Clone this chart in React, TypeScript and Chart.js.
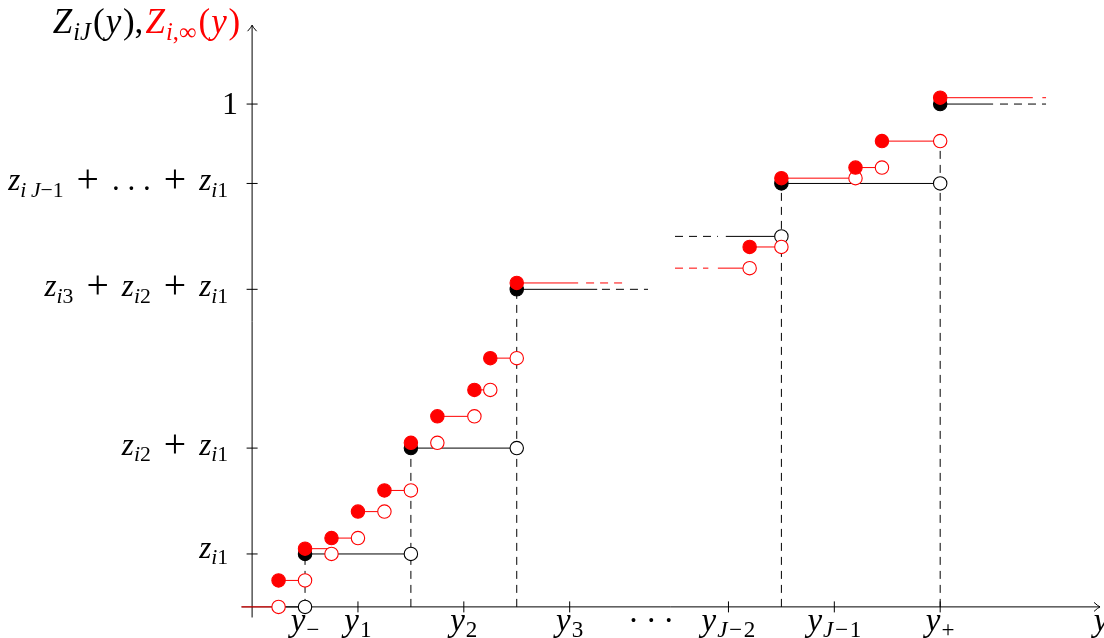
import { useEffect, useRef } from "react";
import { Chart, registerables } from "chart.js";

Chart.register(...registerables);

const W = 1104;
const H = 638;

// Visible data window (one unit is the same length on both axes)
const X_MIN = -4.763;
const X_MAX = 16.095;
const Y_MIN = -0.5876;
const Y_MAX = 11.466;

// Extent of the drawn axes
const X_AXIS = [-0.2, 16.02];
const Y_AXIS = [-0.2, 10.99];

// Z_iJ(y): solid steps [from, to, level]
const jSteps = [
  [0.5, 1, 0],
  [1, 3, 1],
  [3, 5, 3],
  [5, 6.52, 6],
  [8.95, 10, 7],
  [10, 13, 8],
  [13, 14.0, 9.5],
];
// Z_iJ(y): dashed continuations
const jStepsDashed = [
  [6.61, 7.48, 6],
  [7.99, 8.8, 7],
  [14.13, 15.0, 9.5],
];
const jClosed = [
  [1, 1],
  [3, 3],
  [5, 6],
  [10, 8],
  [13, 9.5],
];
const jOpen = [
  [1, 0],
  [3, 1],
  [5, 3],
  [10, 7],
  [13, 8],
];

// Z_i,inf(y): solid steps [from, to, level]
const infSteps = [
  [-0.2, 0.5, 0],
  [0.5, 1, 0.5],
  [1, 1.5, 1.1],
  [1.5, 2, 1.3],
  [2, 2.5, 1.8],
  [2.5, 3, 2.2],
  [3.5, 4.2, 3.6],
  [4.2, 4.5, 4.1],
  [4.5, 5, 4.7],
  [5, 6.16, 6.12],
  [8.8, 9.4, 6.4],
  [9.4, 10, 6.8],
  [10, 11.4, 8.1],
  [11.4, 11.9, 8.3],
  [11.9, 13, 8.8],
  [13, 14.75, 9.62],
];
// Z_i,inf(y): dashed continuations
const infStepsDashed = [
  [6.31, 7.0, 6.12],
  [7.99, 8.62, 6.4],
  [14.93, 15.0, 9.62],
];
const infClosed = [
  [0.5, 0.5],
  [1, 1.1],
  [1.5, 1.3],
  [2, 1.8],
  [2.5, 2.2],
  [3, 3.1],
  [3.5, 3.6],
  [4.2, 4.1],
  [4.5, 4.7],
  [5, 6.12],
  [9.4, 6.8],
  [10, 8.1],
  [11.4, 8.3],
  [11.9, 8.8],
  [13, 9.62],
];
const infOpen = [
  [0.5, 0],
  [1, 0.5],
  [1.5, 1.0],
  [2, 1.3],
  [2.5, 1.8],
  [3, 2.2],
  [3.5, 3.1],
  [4.2, 3.6],
  [4.5, 4.1],
  [5, 4.7],
  [9.4, 6.4],
  [10, 6.8],
  [11.4, 8.1],
  [11.9, 8.3],
  [13, 8.8],
];

// Dashed drop lines [x, top]
const dropLines = [
  [1, 1],
  [3, 3],
  [5, 6],
  [10, 8],
  [13, 8.63],
];

// ---- math-like text runs ----
// k: italic / roman / subscript italic / subscript roman; g, ga: space before/after (em);
// s: extra glyph scale; dy: baseline nudge (em)
type Run = { t: string; k: "i" | "r" | "si" | "sr"; c?: string; g?: number; ga?: number; s?: number; dy?: number };
const RED = "#ff0000";
const I = (t: string, c?: string, g?: number, ga?: number): Run => ({ t, k: "i", c, g, ga });
const R = (t: string, c?: string, g?: number, ga?: number): Run => ({ t, k: "r", c, g, ga });
const SI = (t: string, c?: string, g?: number, ga?: number): Run => ({ t, k: "si", c, g, ga });
const SR = (t: string, c?: string, g?: number, ga?: number): Run => ({ t, k: "sr", c, g, ga });
const OP = (t: string): Run => ({ t, k: "r", g: 0.42, ga: 0.42, s: 1.28, dy: 0.06 });

const xTicks = [1, 2, 4, 6, 9, 11, 13];
const xTickLabels: Run[][] = [
  [I("y", undefined, 0, 0.03), SR("−")],
  [I("y", undefined, 0, 0.03), SR("1")],
  [I("y", undefined, 0, 0.03), SR("2")],
  [I("y", undefined, 0, 0.03), SR("3")],
  [I("y", undefined, 0, 0.03), SI("J"), SR("−", undefined, 0.05, 0.05), SR("2")],
  [I("y", undefined, 0, 0.03), SI("J"), SR("−", undefined, 0.05, 0.05), SR("1")],
  [I("y", undefined, 0, 0.03), SR("+")],
];
const X_DOTS_AT = 7.54;

const yTicks = [1, 3, 6, 8, 9.5];
const yTickLabels: Run[][] = [
  [I("z"), SI("i"), SR("1")],
  [I("z"), SI("i"), SR("2"), OP("+"), I("z"), SI("i"), SR("1")],
  [I("z"), SI("i"), SR("3"), OP("+"), I("z"), SI("i"), SR("2"), OP("+"), I("z"), SI("i"), SR("1")],
  [I("z"), SI("i"), SI("J", undefined, 0.15), SR("−1"), OP("+"), R(". . ."), OP("+"), I("z"), SI("i"), SR("1")],
  [R("1")],
];

const yTitle: Run[] = [
  I("Z", undefined, 0, 0.03), SI("iJ", undefined, 0, 0.06), R("(", undefined, 0, 0.03), I("y", undefined, 0, 0.05), R(")"), R(",", undefined, 0, 0.06),
  I("Z", RED, 0, 0.03), SI("i", RED), SR(",∞", RED, 0, 0.06), R("(", RED, 0, 0.03), I("y", RED, 0, 0.05), R(")", RED),
];
const xTitle: Run[] = [I("y")];

const FAMILY = '"Liberation Serif", "Times New Roman", serif';
const SIZE = 31;
const X_LABEL_SIZE = 33;
const TITLE_SIZE = 35;

function runFont(r: Run, size: number) {
  const sub = r.k === "si" || r.k === "sr";
  const ital = r.k === "i" || r.k === "si";
  const px = (sub ? size * 0.7 : size) * (r.s || 1);
  return `${ital ? "italic " : ""}${px}px ${FAMILY}`;
}

function runsWidth(ctx: CanvasRenderingContext2D, runs: Run[], size: number) {
  let w = 0;
  for (const r of runs) {
    ctx.font = runFont(r, size);
    w += (r.g || 0) * size + ctx.measureText(r.t).width + (r.ga || 0) * size;
  }
  return w;
}

function drawRuns(
  ctx: CanvasRenderingContext2D,
  runs: Run[],
  x: number,
  baseline: number,
  align: "left" | "right" | "center",
  size: number = SIZE
) {
  const w = runsWidth(ctx, runs, size);
  let cx = align === "right" ? x - w : align === "center" ? x - w / 2 : x;
  ctx.textAlign = "left";
  ctx.textBaseline = "alphabetic";
  for (const r of runs) {
    ctx.font = runFont(r, size);
    cx += (r.g || 0) * size;
    const sub = r.k === "si" || r.k === "sr";
    ctx.fillStyle = r.c || "#000";
    ctx.fillText(r.t, cx, baseline + (sub ? size * 0.2 : 0) + (r.dy || 0) * size);
    cx += ctx.measureText(r.t).width + (r.ga || 0) * size;
  }
}

function arrowHead(ctx: CanvasRenderingContext2D, tx: number, ty: number, dir: "right" | "up") {
  ctx.beginPath();
  if (dir === "right") {
    ctx.moveTo(tx - 6, ty - 4.5);
    ctx.quadraticCurveTo(tx - 2, ty - 0.8, tx, ty);
    ctx.quadraticCurveTo(tx - 2, ty + 0.8, tx - 6, ty + 4.5);
  } else {
    ctx.moveTo(tx - 4.5, ty + 6);
    ctx.quadraticCurveTo(tx - 0.8, ty + 2, tx, ty);
    ctx.quadraticCurveTo(tx + 0.8, ty + 2, tx + 4.5, ty + 6);
  }
  ctx.stroke();
}

const axesPlugin = {
  id: "mathAxes",
  beforeDatasetsDraw(chart: any) {
    const { ctx, scales } = chart;
    const px = (v: number) => scales.x.getPixelForValue(v);
    const py = (v: number) => scales.y.getPixelForValue(v);
    ctx.save();
    ctx.strokeStyle = "#000";
    ctx.lineWidth = 1;
    // axes
    ctx.beginPath();
    ctx.moveTo(px(X_AXIS[0]), py(0));
    ctx.lineTo(px(X_AXIS[1]), py(0));
    ctx.moveTo(px(0), py(Y_AXIS[0]));
    ctx.lineTo(px(0), py(Y_AXIS[1]));
    ctx.stroke();
    arrowHead(ctx, px(X_AXIS[1]), py(0), "right");
    arrowHead(ctx, px(0), py(Y_AXIS[1]), "up");
    // ticks
    ctx.beginPath();
    for (const t of xTicks) {
      ctx.moveTo(px(t), py(0) - 5.5);
      ctx.lineTo(px(t), py(0) + 5.5);
    }
    for (const t of yTicks) {
      ctx.moveTo(px(0) - 5.5, py(t));
      ctx.lineTo(px(0) + 5.5, py(t));
    }
    ctx.stroke();
    ctx.restore();
  },
  afterDraw(chart: any) {
    const { ctx, scales } = chart;
    const px = (v: number) => scales.x.getPixelForValue(v);
    const py = (v: number) => scales.y.getPixelForValue(v);
    ctx.save();
    const xBase = py(0) + 24;
    xTicks.forEach((t, i) => drawRuns(ctx, xTickLabels[i], px(t), xBase, "center", X_LABEL_SIZE));
    drawRuns(ctx, [R("·\u2009·\u2009·")], px(X_DOTS_AT), xBase, "center", X_LABEL_SIZE);
    drawRuns(ctx, xTitle, px(X_AXIS[1]) + 1, xBase, "center", X_LABEL_SIZE);
    yTicks.forEach((t, i) => {
      const runs = yTickLabels[i];
      const onlyDigit = runs.length === 1;
      const hasOp = runs.some((r) => r.t === "+");
      const off = onlyDigit ? 10 : hasOp ? 7 : 4;
      drawRuns(ctx, runs, onlyDigit ? px(0) - 14 : px(0) - 24, py(t) + off, "right", onlyDigit ? 32 : SIZE);
    });
    drawRuns(ctx, yTitle, px(0) - 12, py(Y_AXIS[1]) + 8, "right", TITLE_SIZE);
    ctx.restore();
  },
};

const segData = (segs: number[][]) =>
  segs.flatMap(([a, b, v]) => [
    { x: a, y: v },
    { x: b, y: v },
    { x: b, y: null },
  ]);
const dropData = (lines: number[][]) =>
  lines.flatMap(([xv, top]) => [
    { x: xv, y: 0 },
    { x: xv, y: top },
    { x: xv, y: null },
  ]);
const pts = (list: number[][]) => list.map(([x, y]) => ({ x, y }));

const DASH = [8, 6];
const R_MARK = 6.7;

export default function App() {
  const ref = useRef<HTMLCanvasElement>(null);
  useEffect(() => {
    if (!ref.current) return;
    const lineDs = (data: any[], color: string, order: number, dash?: number[]) => ({
      data,
      showLine: true,
      borderColor: color,
      borderWidth: 1,
      borderDash: dash || [],
      pointRadius: 0,
      pointHoverRadius: 0,
      spanGaps: false,
      fill: false,
      order,
    });
    const markDs = (data: any[], fillColor: string, edge: string, order: number) => ({
      data,
      showLine: false,
      backgroundColor: fillColor,
      borderColor: edge,
      borderWidth: 1.1,
      pointRadius: R_MARK,
      pointHoverRadius: R_MARK,
      order,
    });
    const chart = new Chart(ref.current, {
      type: "scatter",
      data: {
        datasets: [
          lineDs(dropData(dropLines), "#000", 10, DASH),
          lineDs(segData(jSteps), "#000", 9),
          lineDs(segData(jStepsDashed), "#000", 9, DASH),
          markDs(pts(jOpen), "#fff", "#000", 8),
          markDs(pts(jClosed), "#000", "#000", 8),
          lineDs(segData(infSteps), RED, 7),
          lineDs(segData(infStepsDashed), RED, 7, DASH),
          markDs(pts(infOpen), "#fff", RED, 6),
          markDs(pts(infClosed), RED, RED, 5),
        ] as any,
      },
      options: {
        animation: false,
        responsive: false,
        devicePixelRatio: 1,
        layout: { padding: 0, autoPadding: false },
        events: [],
        plugins: { legend: { display: false }, tooltip: { enabled: false } },
        scales: {
          x: { type: "linear", min: X_MIN, max: X_MAX, display: false },
          y: { type: "linear", min: Y_MIN, max: Y_MAX, display: false },
        },
      },
      plugins: [axesPlugin],
    });
    return () => chart.destroy();
  }, []);
  return (
    <div style={{ position: "fixed", left: 0, top: 0, width: W, height: H, background: "#fff" }}>
      <canvas ref={ref} width={W} height={H} style={{ width: W, height: H, display: "block" }} />
    </div>
  );
}
